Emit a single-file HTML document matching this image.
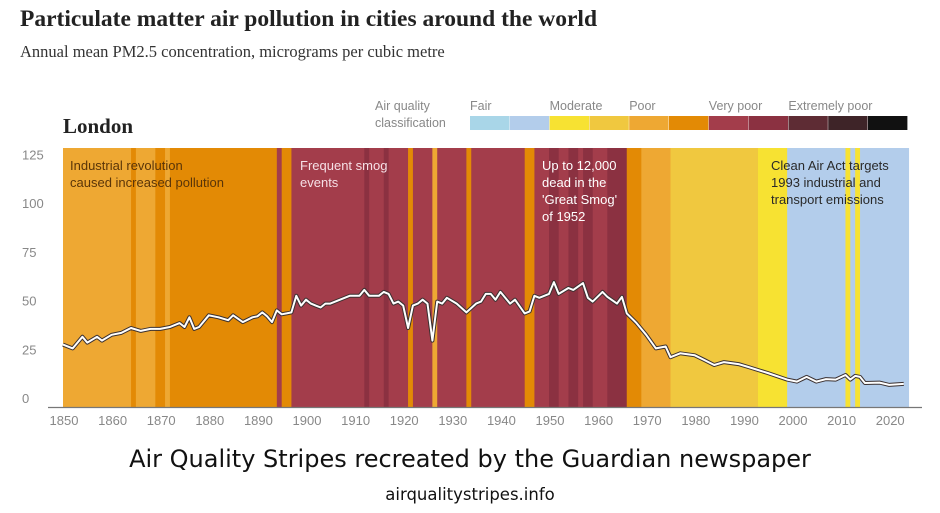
<!DOCTYPE html>
<html><head><meta charset="utf-8"><style>
body{margin:0;background:#fff;width:940px;height:513px;overflow:hidden;font-family:"Liberation Sans",sans-serif}
svg{display:block}
</style></head><body>
<svg id="chart" width="940" height="513" viewBox="0 0 940 513">
<text x="20" y="26" font-family="Liberation Serif,serif" font-weight="bold" font-size="23.5" fill="#222">Particulate matter air pollution in cities around the world</text>
<text x="20" y="57" font-family="Liberation Serif,serif" font-size="16.5" fill="#333">Annual mean PM2.5 concentration, micrograms per cubic metre</text>
<text x="63" y="133" font-family="Liberation Serif,serif" font-weight="bold" font-size="21" fill="#222">London</text>
<text x="375" y="110" font-size="12.5" fill="#888">Air quality</text>
<text x="375" y="127" font-size="12.5" fill="#888">classification</text>
<g id="legend"></g>
<g id="stripes"></g>
<g id="yaxis"></g>
<g id="xaxis"></g>
<g id="line"></g>
<g font-size="13">
<text x="70" y="170" fill="#5a3508"><tspan x="70">Industrial revolution</tspan><tspan x="70" dy="17">caused increased pollution</tspan></text>
<text x="300" y="170" fill="#f6e0e6"><tspan x="300">Frequent smog</tspan><tspan x="300" dy="17">events</tspan></text>
<text x="542" y="170" fill="#fff"><tspan x="542">Up to 12,000</tspan><tspan x="542" dy="17">dead in the</tspan><tspan x="542" dy="17">'Great Smog'</tspan><tspan x="542" dy="17">of 1952</tspan></text>
<text x="771" y="170" fill="#2a2a2a"><tspan x="771">Clean Air Act targets</tspan><tspan x="771" dy="17">1993 industrial and</tspan><tspan x="771" dy="17">transport emissions</tspan></text>
</g>
<text x="470" y="467" text-anchor="middle" font-family="DejaVu Sans,sans-serif" font-size="24" fill="#111">Air Quality Stripes recreated by the Guardian newspaper</text>
<text x="470" y="500" text-anchor="middle" font-family="DejaVu Sans,sans-serif" font-size="16.5" fill="#111">airqualitystripes.info</text>
</svg>
<script>
const classColors=["#a9d6e8","#b3cdeb","#f7e232","#f0c83f","#eea833","#e38a05","#a33d4b","#8b3141","#5e2c34","#3e2428","#111111"];
const legendLabels=["Fair","Moderate","Poor","Very poor","Extremely poor"];
const legendLabelIdx=[0,2,4,6,8];
const runStart=[1850,1864,1865,1869,1871,1872,1894,1895,1897,1912,1913,1916,1917,1921,1922,1926,1927,1933,1934,1945,1947,1950,1952,1954,1956,1957,1959,1962,1966,1969,1975,1993,1999,2011,2012,2013,2014];
const runEnd=  [1863,1864,1868,1870,1871,1893,1894,1896,1911,1912,1915,1916,1920,1921,1925,1926,1932,1933,1944,1946,1949,1951,1953,1955,1956,1958,1961,1965,1968,1974,1992,1998,2010,2011,2012,2013,2023];
const runClass=[4,5,4,5,4,5,6,5,6,7,6,7,6,5,6,4,6,5,6,5,6,7,6,7,6,7,6,7,5,4,3,2,1,2,1,2,1];
const years=[1850,1852,1854,1855,1857,1858,1860,1862,1864,1866,1868,1870,1872,1874,1875,1876,1877,1878,1880,1882,1884,1885,1887,1889,1890,1891,1892,1893,1894,1895,1896,1897,1898,1899,1900,1901,1902,1903,1904,1905,1907,1909,1911,1912,1913,1915,1916,1917,1918,1919,1920,1921,1922,1923,1924,1925,1926,1927,1928,1929,1931,1933,1935,1936,1937,1938,1939,1940,1942,1943,1945,1946,1947,1948,1950,1951,1952,1954,1955,1957,1958,1959,1961,1962,1964,1965,1966,1968,1970,1972,1974,1975,1977,1980,1982,1984,1986,1989,1991,1995,1999,2001,2003,2005,2007,2009,2011,2012,2013,2014,2015,2018,2020,2023];
const values=[31,29,35,32,35,33,36,37,39.5,38,39,39,40,42,40,45,39,40,46,45,43.5,46,42.5,45,45.5,47.5,45.5,42.5,48.5,46.5,47,47.5,56,51,54,52,51,50,52,52,54,56,56,59,56,56,58,57,52,53,51,39.5,51,52,54,52,33,53,52,55,52,47.5,52,53,57,57,54,58,52,54,47,48,56,55,57,63,57,60,59,62.5,55,53,58,55.5,52,55.5,47,42,36,29,30,24.5,26.5,25.5,23,20.5,22,21,19.5,16.4,13,12,14.4,12,13.3,13,15.4,13,14.9,14.4,11.3,11.5,10.3,10.8];
const yTicks=[0,25,50,75,100,125];
const xTicks=[1850,1860,1870,1880,1890,1900,1910,1920,1930,1940,1950,1960,1970,1980,1990,2000,2010,2020];
const NS="http://www.w3.org/2000/svg";
const x0=63,yearW=4.86,yBase=405,vScale=1.95;
const xs=y=>x0+(y-1850)*yearW;
const ys=v=>yBase-v*vScale;
function mk(tag,attrs,parent){const e=document.createElementNS(NS,tag);for(const k in attrs)e.setAttribute(k,attrs[k]);parent.appendChild(e);return e;}
const lg=document.getElementById('legend');
classColors.forEach((c,i)=>{const r=mk('rect',{x:470+i*39.8,y:116,width:39.4,height:14,fill:c},lg);

});
legendLabels.forEach((l,i)=>{const t=mk('text',{x:470+legendLabelIdx[i]*39.8,y:110,'font-size':12.5,fill:'#888'},lg);t.textContent=l;

});
const sg=document.getElementById('stripes');
runStart.forEach((s,i)=>{const r=mk('rect',{x:xs(s),y:148,width:(runEnd[i]-s+1)*yearW+0.4,height:259,fill:classColors[runClass[i]]},sg);

});
const ya=document.getElementById('yaxis');
yTicks.forEach(v=>{const t=mk('text',{x:22,y:ys(v)-2,'font-size':13,fill:'#888'},ya);t.textContent=v;

});
const xa=document.getElementById('xaxis');
const al=mk('line',{x1:48,x2:922,y1:407.5,y2:407.5,stroke:'#777','stroke-width':1.2},xa);


xTicks.forEach(v=>{const t=mk('text',{x:xs(v)+1,y:425,'font-size':13,fill:'#888','text-anchor':'middle'},xa);t.textContent=v;

});
const d=years.map((y,i)=>(i?'L':'M')+xs(y).toFixed(1)+' '+ys(values[i]).toFixed(1)).join(' ');
const lgp=document.getElementById('line');
const p1=mk('path',{d:d,fill:'none',stroke:'#3a3030','stroke-width':4,'stroke-linejoin':'round'},lgp);


const p2=mk('path',{d:d,fill:'none',stroke:'#fff','stroke-width':2,'stroke-linejoin':'round'},lgp);


</script>
</body></html>
